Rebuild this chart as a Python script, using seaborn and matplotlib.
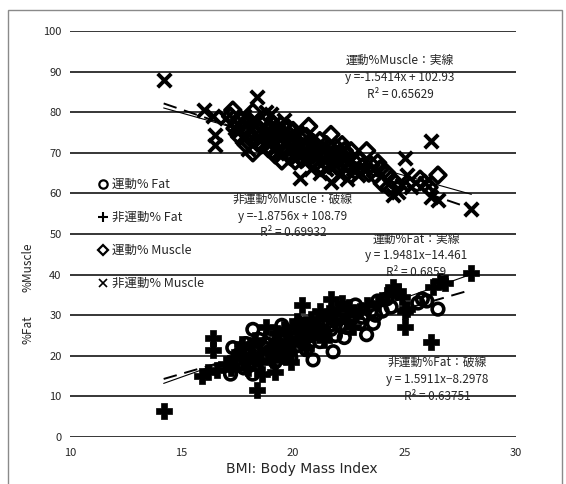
import numpy as np
import matplotlib
matplotlib.use("Agg")
import matplotlib.pyplot as plt
import seaborn as sns
from matplotlib.patches import Rectangle
from matplotlib.lines import Line2D

# 運動 %Muscle (diamonds)
ex_mus_x = [17.2, 17.3, 17.5, 17.6, 17.8, 17.9, 18.0, 18.1, 18.2, 18.2, 18.3, 18.5, 18.6, 18.7,
            18.8, 18.9, 19.0, 19.1, 19.2, 19.3, 19.4, 19.5, 19.6, 19.7, 19.8, 19.9, 20.0, 20.1,
            20.2, 20.3, 20.4, 20.5, 20.6, 20.7, 20.8, 20.9, 21.0, 21.1, 21.2, 21.3, 21.4, 21.5,
            21.6, 21.7, 21.8, 21.9, 22.0, 22.1, 22.2, 22.3, 22.4, 22.5, 22.6, 22.8, 23.0, 23.3,
            23.5, 23.7, 23.9, 24.0, 24.2, 24.4, 25.7, 25.9, 26.1, 26.5,
            17.4, 17.7, 18.0, 18.4, 18.9, 19.1, 19.5, 19.8, 20.1, 20.4, 20.7, 21.0, 21.3, 21.6,
            22.0, 22.3, 22.7, 23.1, 23.4, 23.8, 24.3, 24.6]
ex_mus_y = [79.0, 80.5, 77.0, 74.0, 76.0, 72.0, 78.0, 73.5, 80.0, 70.0, 75.0, 77.5, 72.0, 78.5,
            74.0, 71.0, 76.0, 73.0, 69.5, 75.0, 72.0, 68.0, 74.5, 71.0, 73.0, 69.0, 75.5, 72.0,
            70.0, 73.5, 68.5, 71.5, 74.0, 76.5, 70.0, 72.5, 67.5, 71.0, 73.0, 69.0, 70.5, 72.0,
            67.0, 74.5, 69.5, 71.5, 66.5, 70.0, 72.0, 68.0, 69.5, 67.0, 70.5, 65.5, 68.0, 70.5,
            67.0, 64.5, 66.0, 62.5, 65.0, 63.5, 63.5, 62.5, 61.5, 64.5,
            76.0, 78.0, 75.0, 72.5, 76.0, 70.5, 73.0, 76.0, 68.0, 74.5, 69.0, 71.5, 66.5, 69.5,
            68.5, 70.5, 68.0, 66.5, 65.0, 67.5, 61.5, 62.5]

# 非運動 %Muscle (x)
nex_mus_x = [14.2, 16.0, 16.4, 16.5, 16.5, 17.0, 17.4, 17.7, 18.0, 18.3, 18.4, 18.6, 18.8, 19.0,
             19.1, 19.3, 19.5, 19.6, 19.8, 20.0, 20.1, 20.3, 20.4, 20.6, 20.8, 21.0, 21.2, 21.4,
             21.7, 21.9, 22.1, 22.4, 22.7, 24.5, 24.7, 24.9, 25.0, 25.1, 25.3, 25.9, 26.2, 26.2,
             26.5, 28.0,
             17.5, 17.8, 18.1, 18.5, 18.7, 18.9, 19.2, 19.4, 19.6, 19.9, 20.2, 20.5, 20.7, 21.1,
             21.3, 21.5, 21.8, 22.0, 22.3, 22.5, 22.9, 23.2, 18.2, 19.0]
nex_mus_y = [88.0, 80.5, 79.0, 74.5, 72.0, 78.5, 76.0, 74.0, 71.0, 78.0, 83.8, 75.0, 80.0, 73.0,
             77.0, 70.0, 74.5, 78.0, 71.5, 69.0, 75.0, 63.8, 72.0, 68.0, 66.0, 70.5, 65.0, 68.5,
             62.7, 67.0, 64.5, 63.5, 66.0, 59.5, 60.3, 62.0, 68.8, 64.5, 61.5, 62.5, 72.8, 59.2,
             58.3, 56.2,
             77.0, 79.0, 75.5, 73.0, 76.5, 72.5, 75.5, 77.0, 72.5, 74.0, 71.0, 73.0, 70.0, 69.0,
             71.5, 66.0, 68.0, 69.5, 66.5, 68.0, 64.5, 66.0, 77.0, 79.5]

# 運動 %Fat (circles)
ex_fat_x = [17.2, 17.3, 17.5, 17.6, 17.8, 17.9, 18.0, 18.2, 18.2, 18.4, 18.5, 18.7, 18.9, 19.0,
            19.2, 19.3, 19.5, 19.6, 19.7, 19.9, 20.0, 20.2, 20.3, 20.5, 20.6, 20.8, 20.9, 21.0,
            21.2, 21.4, 21.6, 21.8, 21.9, 22.1, 22.3, 22.5, 22.8, 23.0, 23.3, 23.5, 23.6, 23.8,
            24.0, 24.2, 25.6, 25.8, 26.0, 26.5,
            17.6, 18.0, 18.3, 18.6, 18.8, 19.1, 19.4, 19.8, 20.1, 20.4, 20.7, 21.1, 21.3, 21.7,
            22.0, 22.4, 22.7, 23.1, 23.7, 24.4]
ex_fat_y = [15.5, 22.0, 18.0, 20.5, 17.0, 23.0, 21.0, 26.5, 15.5, 19.0, 24.0, 22.0, 20.0, 25.5,
            18.5, 23.0, 27.5, 21.0, 24.5, 19.5, 26.0, 22.5, 28.0, 24.0, 21.5, 25.0, 19.0, 27.0,
            23.5, 26.0, 28.5, 21.0, 25.0, 27.5, 24.5, 29.0, 32.5, 28.0, 25.2, 31.0, 28.0, 33.5,
            31.0, 34.0, 33.0, 34.0, 33.5, 31.5,
            18.0, 17.5, 21.0, 19.5, 23.0, 21.5, 24.5, 22.0, 24.5, 26.0, 23.0, 25.5, 28.0, 26.5,
            29.0, 27.0, 30.0, 29.5, 30.0, 32.0]

# 非運動 %Fat (plus)
nex_fat_x = [14.2, 15.9, 16.2, 16.4, 16.4, 16.6, 17.0, 17.4, 17.7, 18.0, 18.2, 18.4, 18.6, 18.8,
             19.0, 19.2, 19.3, 19.5, 19.7, 19.9, 20.1, 20.3, 20.4, 20.6, 20.8, 21.0, 21.2, 21.4,
             21.7, 21.9, 22.2, 22.4, 22.7, 23.0, 24.5, 24.7, 24.9, 25.0, 25.0, 25.1, 26.2, 26.3,
             26.6, 26.8, 28.0,
             17.2, 17.6, 17.9, 18.3, 18.5, 18.9, 19.1, 19.4, 19.6, 19.8, 20.0, 20.2, 20.5, 20.7,
             21.1, 21.3, 21.6, 22.0, 22.5, 23.3, 23.8, 24.2]
nex_fat_y = [6.5, 15.0, 16.0, 24.5, 21.5, 16.5, 18.0, 19.5, 23.0, 17.0, 20.0, 11.5, 15.5, 27.0,
             22.0, 16.0, 25.5, 20.0, 23.5, 18.5, 27.0, 24.0, 32.5, 22.0, 29.0, 26.5, 31.0, 24.0,
             34.0, 28.5, 33.0, 30.0, 27.0, 31.0, 37.0, 36.0, 34.5, 31.0, 27.0, 31.5, 23.5, 37.0,
             38.5, 38.0, 40.3,
             17.0, 21.0, 19.0, 24.0, 18.5, 21.0, 19.0, 22.5, 26.5, 21.0, 23.0, 28.5, 25.5, 27.5,
             29.0, 26.0, 30.5, 31.5, 32.0, 32.5, 33.0, 35.0]

# trend line coefficients (slope, intercept) as printed on the chart
fit_ex_mus = (-1.5414, 102.93)
fit_nex_mus = (-1.8756, 108.79)
fit_ex_fat = (1.9481, -14.461)
fit_nex_fat = (1.5911, -8.2978)

labels = ['運動% Fat', '非運動% Fat', '運動% Muscle', '非運動% Muscle']

sns.set_style("white")
plt.rcParams['font.family'] = ['Noto Sans CJK JP', 'DejaVu Sans']

fig = plt.figure(figsize=(5.66, 4.84), dpi=100)
ax = fig.add_axes([70 / 566, 47 / 484, 446 / 566, 406 / 484])

# frame around the whole chart
fig.patches.append(Rectangle((8 / 566, -0.1), 554 / 566, 1.1 - 10 / 484,
                             transform=fig.transFigure, fill=False,
                             edgecolor='#8a8a8a', linewidth=1.0))

sns.scatterplot(x=ex_fat_x, y=ex_fat_y, marker='o', s=70, facecolors='none',
                edgecolor='black', linewidth=2.6, ax=ax, zorder=3)
sns.scatterplot(x=nex_fat_x, y=nex_fat_y, marker='P', s=120, color='black',
                edgecolor='black', linewidth=0.5, ax=ax, zorder=3)
sns.scatterplot(x=ex_mus_x, y=ex_mus_y, marker='D', s=65, facecolors='none',
                edgecolor='black', linewidth=2.6, ax=ax, zorder=3)
sns.scatterplot(x=nex_mus_x, y=nex_mus_y, marker='x', s=95, color='black',
                linewidth=2.8, ax=ax, zorder=3)

# trend lines
def trend(xs, coef, **kw):
    xx = np.array([min(xs), max(xs)])
    ax.plot(xx, coef[0] * xx + coef[1], color='black', zorder=4, **kw)

trend(ex_mus_x + nex_mus_x, fit_ex_mus, linewidth=0.8)
trend(ex_mus_x + nex_mus_x, fit_nex_mus, linewidth=1.4, linestyle=(0, (7, 4)))
trend(ex_fat_x + nex_fat_x, fit_ex_fat, linewidth=0.8)
trend(ex_fat_x + nex_fat_x, fit_nex_fat, linewidth=1.4, linestyle=(0, (7, 4)))

ax.set_xlim(10, 30)
ax.set_ylim(0, 100)
ax.set_xticks([10, 15, 20, 25, 30])
ax.set_yticks(range(0, 101, 10))
ax.yaxis.grid(True, color='black', linewidth=1.1)
ax.set_axisbelow(True)
for sp in ax.spines.values():
    sp.set_visible(False)
ax.tick_params(axis='y', length=0, labelsize=8, pad=6)
ax.tick_params(axis='x', length=0, labelsize=8, pad=8)
ax.set_xlabel('BMI: Body Mass Index', fontsize=10, family='DejaVu Sans')
ax.xaxis.set_label_coords(0.52, -0.062)
ax.set_ylabel('')

fig.text(28 / 566, 1 - 267 / 484, '%Muscle', rotation=90, ha='center', va='center', fontsize=8.5)
fig.text(28 / 566, 1 - 330 / 484, '%Fat', rotation=90, ha='center', va='center', fontsize=8.5)

# legend with thin glyph-like markers
handles = [Line2D([], [], linestyle='none', marker='o', markersize=6, markerfacecolor='none',
                  markeredgecolor='black', markeredgewidth=1.6),
           Line2D([], [], linestyle='none', marker='+', markersize=7, color='black',
                  markeredgewidth=1.5),
           Line2D([], [], linestyle='none', marker='D', markersize=5, markerfacecolor='none',
                  markeredgecolor='black', markeredgewidth=1.6),
           Line2D([], [], linestyle='none', marker='x', markersize=6, color='black',
                  markeredgewidth=1.2)]
ax.legend(handles, labels, loc='upper left', bbox_to_anchor=(0.035, 0.665), frameon=False,
          fontsize=9, labelspacing=1.6, handletextpad=0.2, handlelength=1.0)

ann = [
    (400, 60, '運動%Muscle：実線', 'y =-1.5414x + 102.93', 'R² = 0.65629'),
    (293, 199, '非運動%Muscle：破線', 'y =-1.8756x + 108.79', 'R² = 0.69932'),
    (416, 239, '運動%Fat：実線', 'y = 1.9481x−14.461', 'R² = 0.6859'),
    (437, 362, '非運動%Fat：破線', 'y = 1.5911x−8.2978', 'R² = 0.63751'),
]
for px, py, t1, t2, t3 in ann:
    for k, t in enumerate([t1, t2, t3]):
        fig.text(px / 566, 1 - (py + 17 * k) / 484, t, ha='center', va='center', fontsize=8.5,
                 zorder=5)

fig.savefig('out.png', dpi=100)
